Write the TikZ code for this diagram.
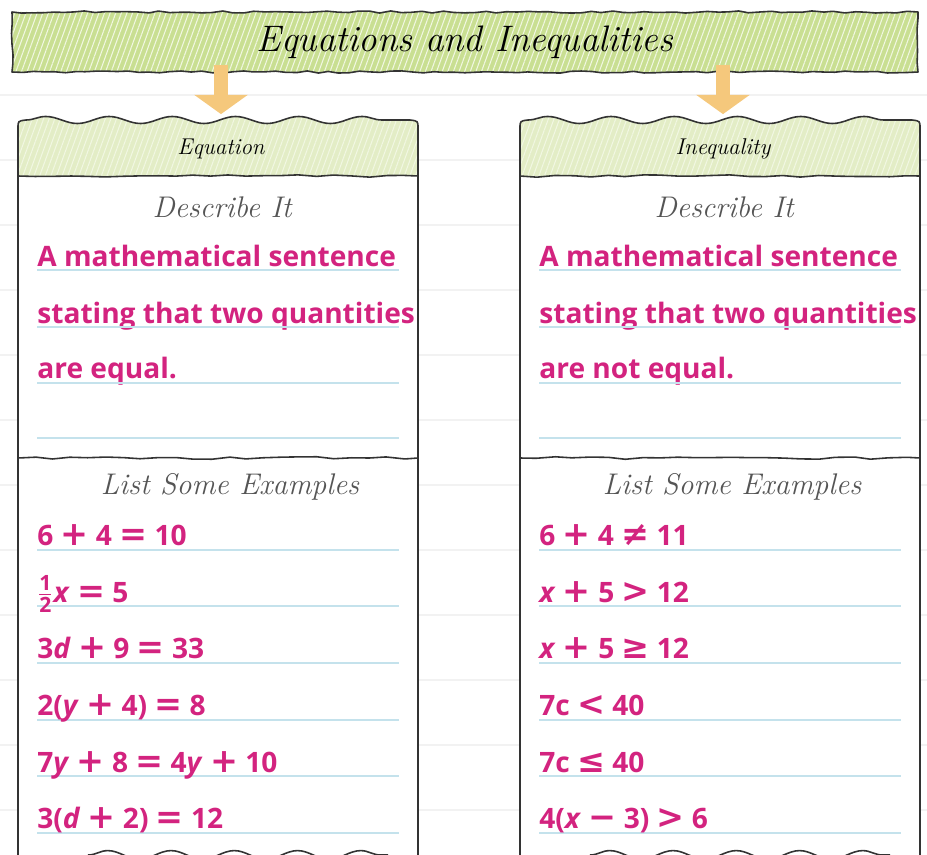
\documentclass[tikz,border=0pt]{standalone}
\usepackage{amsmath}
\usepackage{fontspec}
\newfontfamily\answerfont{Open Sans}
\newfontfamily\opfont{DejaVu Sans}
\usetikzlibrary{patterns.meta,decorations.pathmorphing,arrows.meta}

\definecolor{titlegreen}{HTML}{C9DF92}
\definecolor{headgreen}{HTML}{E3EDC6}
\definecolor{hatch}{HTML}{F1F7E2}
\definecolor{pink}{HTML}{D3237F}
\definecolor{ruleblue}{HTML}{C4E2EC}
\definecolor{arroworange}{HTML}{F5C87C}
\definecolor{ink}{HTML}{333333}
\definecolor{pencil}{HTML}{555555}
\definecolor{page}{HTML}{F2F2F2}

\newcommand\op[1]{\hspace{0.26em}{\opfont\fontsize{19}{19}\selectfont #1}\hspace{0.26em}}
\newcommand\half{$\genfrac{}{}{0.9pt}{1}{\text{\fontsize{12}{12}\selectfont 1}}{\text{\fontsize{12}{12}\selectfont 2}}$}

\tikzset{
  edge/.style={draw=ink, line width=0.9pt, line join=round},
  hatched/.style={pattern={Lines[angle=70,distance=3pt,line width=0.6pt]}, pattern color=hatch},
  hand/.style={font=\itshape\fontsize{17}{20}\selectfont, text=pencil},
  answer/.style={font=\answerfont\bfseries\fontsize{16}{19}\selectfont, text=pink, anchor=base west, inner sep=0pt},
  ruled/.style={draw=ruleblue, line width=0.8pt},
  feed/.style={-{Triangle[width=30pt,length=11pt]}, line width=8pt, draw=arroworange, shorten >=4pt},
}

\begin{document}
\begin{tikzpicture}[x=0.02cm, y=-0.02cm]
\pgfmathsetseed{7}
\useasboundingbox (0,0) rectangle (927,855);
\clip (0,0) rectangle (927,855);

% page lines
\foreach \y in {95,160,...,820}
	\draw[page, line width=1pt] (0,\y) -- (927,\y);

% title banner
\fill[titlegreen] (12,12) rectangle (918,72);
\fill[hatched] (12,12) rectangle (918,72);
\draw[edge, decorate, decoration={random steps, segment length=6pt, amplitude=0.6pt}] (12,12) rectangle (918,72);
\node[font=\itshape\fontsize{21}{25}\selectfont] (title) at (465,42) {Equations and Inequalities};

% two panels
\foreach \x/\name/\head/\last in {18/eq/Equation/are equal., 520/ineq/Inequality/are not equal.}{
	\fill[white] (\x,128) rectangle (\x+400,860);
	\path[fill=headgreen] (\x,176) -- (\x,128) .. controls (\x,121) .. (\x+8,120)
		decorate[decoration={snake, amplitude=2pt, segment length=36pt}] {-- (\x+392,120)}
		.. controls (\x+400,121) .. (\x+400,128) -- (\x+400,176) -- cycle;
	\path[hatched] (\x,176) -- (\x,128) .. controls (\x,121) .. (\x+8,120)
		decorate[decoration={snake, amplitude=2pt, segment length=36pt}] {-- (\x+392,120)}
		.. controls (\x+400,121) .. (\x+400,128) -- (\x+400,176) -- cycle;
	\draw[edge] (\x,860) -- (\x,128) .. controls (\x,121) .. (\x+8,120)
		decorate[decoration={snake, amplitude=2pt, segment length=36pt}] {-- (\x+392,120)}
		.. controls (\x+400,121) .. (\x+400,128) -- (\x+400,860);
	\draw[edge, decorate, decoration={random steps, segment length=10pt, amplitude=0.7pt}] (\x,176) -- (\x+400,176);
	\draw[edge, decorate, decoration={random steps, segment length=10pt, amplitude=0.8pt}] (\x,458) -- (\x+400,458);
	\draw[edge, decorate, decoration={snake, amplitude=2.5pt, segment length=36pt}] (\x+70,855) -- (\x+370,855);

	\node[minimum width=8cm, minimum height=1.1cm, font=\itshape\fontsize{13}{15}\selectfont] (\name head) at (\x+203,149) {\head};
	\node[hand] (\name describe) at (\x+204,207) {Describe It};
	\node[hand] (\name list) at (\x+212,487) {List Some Examples};

	\node[answer] (\name line1) at (\x+19,266) {A mathematical sentence};
	\node[answer] (\name line2) at (\x+19,323) {stating that two quantities};
	\node[answer] (\name line3) at (\x+19,378) {\last};
	\foreach \y in {270,327,383,438}
		\draw[ruled] (\x+19,\y) -- (\x+381,\y);
	\foreach \y in {550,606,663,720,776,833}
		\draw[ruled] (\x+19,\y) -- (\x+381,\y);
}

% examples
\foreach \t [count=\i] in {{6\op{+}4\op{=}10}, {\half\textit{x}\op{=}5}, {3\textit{d}\op{+}9\op{=}33},
	{2(\textit{y}\op{+}4)\op{=}8}, {7\textit{y}\op{+}8\op{=}4\textit{y}\op{+}10}, {3(\textit{d}\op{+}2)\op{=}12}}
	\node[answer] (eqex\i) at (37,489+56.6*\i) {\t};
\foreach \t [count=\i] in {{6\op{+}4\op{≠}11}, {\textit{x}\op{+}5\op{>}12}, {\textit{x}\op{+}5\op{≥}12},
	{7c\op{<}40}, {7c\op{≤}40}, {4(\textit{x}\op{−}3)\op{>}6}}
	\node[answer] (ineqex\i) at (539,489+56.6*\i) {\t};

% arrows
\draw[feed] (title.south -| eqhead) -- (eqhead.north);
\draw[feed] (title.south -| ineqhead) -- (ineqhead.north);

\end{tikzpicture}
\end{document}
